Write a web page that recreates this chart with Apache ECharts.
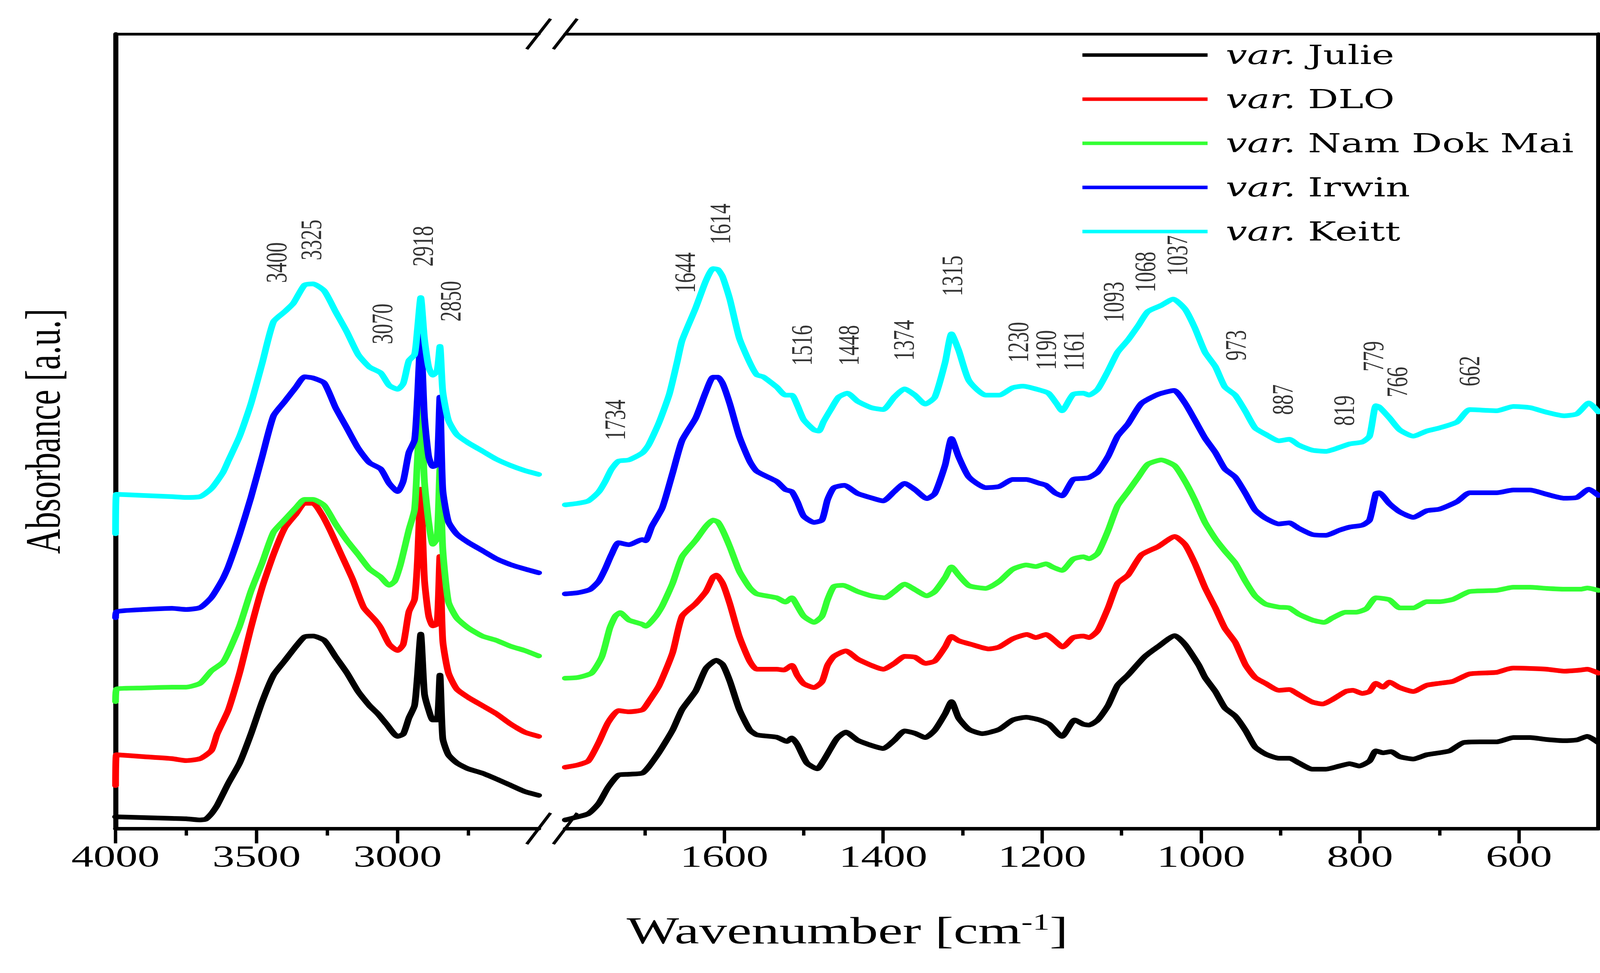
<!DOCTYPE html>
<html><head><meta charset="utf-8">
<script src="https://cdn.jsdelivr.net/npm/echarts@6/dist/echarts.min.js"></script>
<style>
html,body{margin:0;padding:0;background:#fff;overflow:hidden;width:4137px;height:2492px}
#chart{position:absolute;left:0;top:0;height:2492px;transform-origin:0 0;}
</style></head>
<body><div id="chart"></div>
<script>
// ---- data: [wavenumber, absorbance (arbitrary units, offset-stacked)] ----
const julieLeft = [[4000,30],[3900,28],[3800,26],[3750,25],[3700,22],[3680,24],[3660,38],[3640,59],[3600,116],[3560,168],[3520,242],[3480,325],[3440,393],[3400,430],[3360,467],[3330,491],[3300,493],[3260,482],[3220,440],[3180,399],[3140,351],[3100,315],[3070,294],[3040,268],[3000,236],[2980,242],[2960,283],[2940,315],[2930,388],[2918,498],[2905,346],[2890,304],[2875,278],[2860,278],[2850,393],[2840,231],[2820,189],[2790,168],[2750,153],[2700,142],[2650,127],[2600,111],[2550,95],[2500,85]];
const dloLeft = [[4000,110],[3997,189],[3900,184],[3800,179],[3750,174],[3700,179],[3660,200],[3640,242],[3600,304],[3560,399],[3520,514],[3480,618],[3440,702],[3400,770],[3360,806],[3330,833],[3300,833],[3270,806],[3240,765],[3200,702],[3160,639],[3120,566],[3080,534],[3060,514],[3030,472],[3000,456],[2980,472],[2960,555],[2940,587],[2930,681],[2918,869],[2905,639],[2890,545],[2875,519],[2860,524],[2850,697],[2840,482],[2820,399],[2790,357],[2750,336],[2700,315],[2650,294],[2600,268],[2550,247],[2500,236]];
const ndmLeft = [[4000,325],[3997,357],[3900,360],[3800,362],[3750,362],[3700,372],[3660,404],[3620,425],[3600,451],[3560,519],[3520,608],[3480,681],[3440,759],[3400,791],[3360,822],[3330,843],[3300,843],[3260,827],[3220,780],[3180,738],[3140,702],[3100,665],[3060,644],[3030,623],[3010,634],[2990,676],[2960,765],[2940,817],[2930,942],[2918,1099],[2905,890],[2890,786],[2875,728],[2860,744],[2850,921],[2840,717],[2820,581],[2790,539],[2750,514],[2700,493],[2650,482],[2600,467],[2550,456],[2500,442]];
const irwinLeft = [[4000,540],[3997,555],[3900,561],[3800,564],[3750,561],[3700,566],[3660,592],[3620,639],[3600,671],[3560,754],[3520,848],[3480,953],[3440,1057],[3400,1094],[3360,1131],[3330,1157],[3300,1154],[3260,1141],[3220,1078],[3180,1026],[3140,974],[3100,937],[3060,921],[3030,884],[3000,863],[2980,890],[2960,963],[2940,995],[2930,1099],[2918,1262],[2905,1057],[2890,953],[2875,927],[2860,932],[2850,1105],[2840,869],[2820,786],[2790,754],[2750,733],[2700,712],[2650,691],[2600,676],[2550,665],[2500,655]];
const keittLeft = [[4000,755],[3997,856],[3900,853],[3800,850],[3750,848],[3700,850],[3660,871],[3620,911],[3600,942],[3560,1005],[3520,1088],[3480,1192],[3440,1298],[3400,1324],[3370,1345],[3330,1392],[3300,1395],[3260,1377],[3220,1324],[3180,1272],[3140,1214],[3100,1182],[3060,1167],[3030,1135],[3000,1125],[2980,1140],[2960,1198],[2940,1214],[2930,1276],[2918,1360],[2905,1255],[2890,1182],[2875,1161],[2860,1172],[2850,1235],[2840,1120],[2820,1046],[2790,1009],[2750,988],[2700,967],[2650,946],[2600,930],[2550,917],[2500,907]];

const julieRight = [[1800,22],[1790,27],[1771,38],[1758,64],[1746,106],[1733,137],[1720,139],[1703,142],[1695,158],[1682,195],[1665,252],[1653,305],[1636,352],[1623,410],[1610,431],[1602,420],[1593,378],[1581,305],[1568,253],[1559,240],[1534,234],[1521,223],[1515,232],[1508,215],[1496,168],[1483,153],[1475,174],[1466,205],[1458,231],[1447,247],[1432,226],[1415,213],[1400,205],[1386,226],[1373,250],[1360,244],[1347,233],[1335,252],[1322,294],[1314,325],[1305,283],[1292,254],[1275,243],[1254,254],[1237,278],[1220,285],[1203,278],[1191,267],[1175,236],[1159,278],[1148,267],[1141,265],[1130,278],[1117,315],[1105,367],[1092,393],[1071,440],[1054,466],[1033,494],[1020,471],[1003,419],[995,387],[982,351],[970,309],[957,288],[944,251],[932,209],[919,191],[902,180],[889,180],[877,168],[860,152],[843,152],[826,160],[813,166],[801,160],[788,173],[780,199],[771,194],[761,197],[750,184],[733,178],[716,189],[700,194],[687,199],[670,220],[649,222],[628,222],[607,233],[586,233],[565,228],[543,225],[527,227],[514,236],[500,220]];
const dloRight = [[1800,157],[1784,163],[1771,173],[1758,220],[1746,272],[1733,302],[1720,299],[1703,304],[1695,325],[1682,366],[1665,450],[1653,544],[1636,576],[1623,607],[1614,644],[1610,649],[1602,628],[1593,576],[1581,492],[1568,429],[1559,408],[1534,408],[1525,406],[1515,418],[1508,392],[1500,371],[1487,361],[1477,376],[1470,418],[1462,441],[1447,455],[1432,434],[1415,418],[1400,408],[1386,423],[1373,441],[1360,439],[1347,423],[1335,429],[1322,465],[1314,492],[1305,481],[1288,471],[1267,460],[1254,465],[1237,486],[1219,497],[1208,489],[1195,497],[1184,481],[1174,465],[1161,489],[1148,493],[1141,489],[1130,507],[1117,565],[1105,628],[1092,649],[1075,701],[1054,722],[1033,748],[1020,727],[1008,680],[995,617],[982,565],[970,513],[957,477],[944,419],[932,387],[919,372],[902,354],[889,356],[877,343],[860,324],[847,319],[835,330],[818,351],[809,354],[797,346],[788,351],[780,372],[771,362],[763,375],[750,361],[733,351],[716,367],[700,372],[683,377],[662,396],[628,400],[615,408],[607,411],[586,410],[565,408],[543,403],[522,406],[514,408],[500,398]];
const ndmRight = [[1800,385],[1784,387],[1767,398],[1754,440],[1744,513],[1737,544],[1731,553],[1720,534],[1703,523],[1699,518],[1686,544],[1678,570],[1665,628],[1653,696],[1636,738],[1623,774],[1614,790],[1608,785],[1602,764],[1593,722],[1581,659],[1568,617],[1559,601],[1534,591],[1523,580],[1515,591],[1508,570],[1500,544],[1487,528],[1477,544],[1470,586],[1462,620],[1451,623],[1432,607],[1415,596],[1398,591],[1386,607],[1373,626],[1360,612],[1345,596],[1335,607],[1322,643],[1314,670],[1305,649],[1292,622],[1271,615],[1254,633],[1237,664],[1220,675],[1208,671],[1195,678],[1187,670],[1175,661],[1161,690],[1148,696],[1141,691],[1130,705],[1117,763],[1105,827],[1092,863],[1079,900],[1067,933],[1050,944],[1033,929],[1020,889],[1008,842],[995,784],[982,742],[970,711],[957,680],[944,633],[932,596],[919,575],[902,567],[889,565],[877,549],[860,534],[845,528],[835,539],[818,554],[805,554],[792,563],[780,591],[763,586],[750,565],[733,565],[716,581],[700,581],[683,587],[662,607],[628,610],[607,618],[586,618],[565,615],[543,613],[522,613],[514,616],[500,610]];
const irwinRight = [[1800,601],[1784,604],[1769,612],[1758,633],[1750,664],[1742,701],[1733,732],[1720,727],[1703,740],[1699,737],[1691,774],[1678,821],[1665,910],[1653,994],[1636,1051],[1623,1119],[1614,1156],[1608,1156],[1602,1140],[1593,1088],[1581,1004],[1568,941],[1559,915],[1534,889],[1523,868],[1515,863],[1508,837],[1500,800],[1487,784],[1477,790],[1470,842],[1462,873],[1449,879],[1432,858],[1415,847],[1400,839],[1386,863],[1373,884],[1360,868],[1345,845],[1335,858],[1322,931],[1314,999],[1305,952],[1292,900],[1271,873],[1254,876],[1237,894],[1220,894],[1203,884],[1195,879],[1184,860],[1175,852],[1161,894],[1148,897],[1141,899],[1130,913],[1117,953],[1105,1005],[1092,1036],[1075,1089],[1054,1112],[1034,1122],[1020,1089],[1008,1047],[995,1000],[982,963],[970,921],[957,900],[944,858],[932,816],[919,795],[902,780],[889,783],[877,769],[860,753],[843,751],[826,764],[813,772],[797,777],[788,790],[780,858],[776,860],[763,832],[750,811],[733,797],[716,814],[700,818],[678,837],[662,860],[628,860],[607,867],[586,867],[565,856],[543,846],[527,848],[512,869],[500,853]];
const keittRight = [[1800,829],[1784,833],[1771,839],[1758,862],[1750,888],[1742,920],[1733,941],[1720,944],[1703,962],[1695,983],[1682,1040],[1669,1113],[1659,1197],[1653,1250],[1636,1333],[1623,1403],[1614,1434],[1608,1432],[1602,1413],[1593,1356],[1581,1256],[1568,1194],[1559,1162],[1551,1157],[1534,1131],[1523,1110],[1515,1110],[1508,1084],[1500,1047],[1487,1021],[1481,1018],[1475,1042],[1466,1073],[1456,1105],[1445,1115],[1432,1094],[1415,1078],[1400,1073],[1386,1105],[1373,1126],[1360,1110],[1347,1087],[1335,1105],[1322,1194],[1314,1267],[1305,1225],[1292,1147],[1271,1110],[1254,1110],[1237,1129],[1224,1133],[1203,1123],[1192,1115],[1182,1089],[1175,1070],[1161,1112],[1148,1115],[1141,1110],[1130,1125],[1117,1172],[1105,1220],[1092,1251],[1079,1288],[1067,1324],[1050,1340],[1035,1356],[1020,1330],[1008,1283],[995,1220],[982,1183],[970,1131],[957,1110],[944,1068],[932,1026],[919,1010],[902,993],[889,997],[877,982],[860,969],[843,966],[826,976],[813,985],[797,990],[788,1005],[780,1083],[776,1080],[763,1052],[750,1021],[733,1005],[716,1018],[700,1026],[678,1041],[662,1073],[628,1070],[607,1081],[586,1078],[565,1066],[543,1057],[527,1062],[512,1090],[500,1067]];

const varietyNames = ['Julie', 'DLO', 'Nam Dok Mai', 'Irwin', 'Keitt'];
const varietyColors = ['#000000', '#ff0000', '#33ff33', '#0000ff', '#00ffff'];

// tick values
const leftMajorTicks = [4000, 3500, 3000];
const leftMinorTicks = [3750, 3250, 2750];
const rightMajorTicks = [1600, 1400, 1200, 1000, 800, 600];
const rightMinorTicks = [1700, 1500, 1300, 1100, 900, 700];

// peak annotations: label text, anchor wavenumber, anchor height (bottom of rotated text)
const peakLeftText = ['3400', '3325', '3070', '2918', '2850'];
const peakLeftX = [3429, 3306, 3054, 2910, 2812];
const peakLeftY = [1397, 1455, 1240, 1439, 1298];
const peakRightText = ['1734','1644','1614','1516','1448','1374','1315','1230','1190','1161','1093','1068','1037','973','887','819','779','766','662'];
const peakRightX = [1737,1649,1605,1502,1443,1374,1313,1230,1195,1160,1110,1070,1030,956,897,820,783,753,662];
const peakRightY = [994,1371,1496,1185,1185,1198,1363,1193,1174,1172,1296,1373,1415,1198,1059,1031,1170,1104,1132];

// ---- layout ----
const S = 1.45;                       // horizontal stretch of the original figure
const W = Math.round(4137 / S);
const H = 2492;
const GT = 87, GH = 2035;
const LL = 204, LW = 747;             // left panel
const RL = 998, RW = 1824;            // right panel

const dom = document.getElementById('chart');
dom.style.width = W + 'px';
dom.style.transform = 'scaleX(' + S + ')';
const chart = echarts.init(dom, null, { renderer: 'svg', width: W, height: H });

const black = '#000';
const serif = 'Liberation Serif';

function bottomAxis(grid, min, max, interval, ticks, len, labels) {
  return {
    type: 'value', gridIndex: grid, position: 'bottom', inverse: true,
    min: min, max: max, interval: interval,
    axisLine: { show: labels, onZero: false, lineStyle: { color: black, width: 9 } },
    axisTick: { show: true, inside: false, length: len, customValues: ticks, lineStyle: { color: black, width: 6 } },
    axisLabel: labels ? {
      show: true, customValues: ticks, margin: 32, color: black,
      fontFamily: serif, fontSize: 78,
      formatter: v => (ticks.indexOf(v) >= 0 ? String(v) : '')
    } : { show: false },
    splitLine: { show: false }
  };
}
function topAxis(grid, min, max) {
  return {
    type: 'value', gridIndex: grid, position: 'top', inverse: true, min: min, max: max,
    axisLine: { show: true, onZero: false, lineStyle: { color: black, width: 7 } },
    axisTick: { show: false }, axisLabel: { show: false }, splitLine: { show: false }
  };
}

const series = [];
const leftData = [julieLeft, dloLeft, ndmLeft, irwinLeft, keittLeft];
const rightData = [julieRight, dloRight, ndmRight, irwinRight, keittRight];
varietyNames.forEach((n, i) => {
  const common = {
    type: 'line', name: n, showSymbol: false, symbol: 'none', animation: false,
    smooth: 0.2,
    lineStyle: { width: 12, color: varietyColors[i], join: 'round', cap: 'round' },
    itemStyle: { color: varietyColors[i] },
    emphasis: { disabled: true }
  };
  series.push(Object.assign({}, common, { xAxisIndex: 0, yAxisIndex: 0, data: leftData[i] }));
  series.push(Object.assign({}, common, { xAxisIndex: 3, yAxisIndex: 1, data: rightData[i] }));
});

const peakLabel = {
  show: true, formatter: p => p.value[2], rotate: 90, position: [0, 0],
  align: 'left', verticalAlign: 'middle', color: '#000', fontFamily: serif, fontSize: 52
};
series.push({
  type: 'scatter', name: 'peaksL', xAxisIndex: 0, yAxisIndex: 0, symbolSize: 1, silent: true,
  itemStyle: { color: 'rgba(0,0,0,0)' }, label: peakLabel, animation: false, z: 5,
  data: peakLeftText.map((t, i) => [peakLeftX[i], peakLeftY[i], t])
});
series.push({
  type: 'scatter', name: 'peaksR', xAxisIndex: 3, yAxisIndex: 1, symbolSize: 1, silent: true,
  itemStyle: { color: 'rgba(0,0,0,0)' }, label: peakLabel, animation: false, z: 5,
  data: peakRightText.map((t, i) => [peakRightX[i], peakRightY[i], t])
});

function slash(cx, cy, dy) {
  return { type: 'line', silent: true, z: 100,
    shape: { x1: cx - 21, y1: cy + dy, x2: cx + 21, y2: cy - dy },
    style: { stroke: black, lineWidth: 6 } };
}

chart.setOption({
  backgroundColor: '#fff',
  animation: false,
  title: {
    text: 'Wavenumber [cm{sup|-1}]', left: (LL + RL + RW) / 2 - 22, top: 2326, textAlign: 'center',
    textStyle: {
      fontFamily: serif, fontSize: 98, fontWeight: 'normal', color: black, lineHeight: 104,
      rich: { sup: { fontFamily: serif, fontSize: 60, verticalAlign: 'top', lineHeight: 60, color: black } }
    }
  },
  legend: {
    data: varietyNames, orient: 'vertical', left: 1906, top: 96,
    itemWidth: 221, itemHeight: 9, itemGap: 33, icon: 'rect', selectedMode: false,
    formatter: n => '{i|var.} ' + n,
    textStyle: {
      fontFamily: 'DejaVu Serif', fontSize: 67, color: black, lineHeight: 80,
      rich: { i: { fontFamily: 'DejaVu Serif', fontStyle: 'italic', fontSize: 67, color: black, padding: [0, 0, 0, 27] } }
    }
  },
  grid: [
    { left: LL, top: GT, width: LW, height: GH },
    { left: RL, top: GT, width: RW, height: GH }
  ],
  xAxis: [
    bottomAxis(0, 2500, 4000, 500, leftMajorTicks, 38, true),
    bottomAxis(0, 2500, 4000, 500, leftMinorTicks, 18, false),
    topAxis(0, 2500, 4000),
    bottomAxis(1, 500, 1800, 100, rightMajorTicks, 38, true),
    bottomAxis(1, 500, 1800, 100, rightMinorTicks, 18, false),
    topAxis(1, 500, 1800)
  ],
  yAxis: [
    { type: 'value', gridIndex: 0, position: 'left', min: 0, max: GH,
      name: 'Absorbance [a.u.]', nameLocation: 'middle', nameGap: 84,
      nameTextStyle: { fontFamily: serif, fontSize: 88, color: black },
      axisLine: { show: true, onZero: false, lineStyle: { color: black, width: 9 } },
      axisTick: { show: false }, axisLabel: { show: false }, splitLine: { show: false } },
    { type: 'value', gridIndex: 1, position: 'right', min: 0, max: GH,
      axisLine: { show: true, onZero: false, lineStyle: { color: black, width: 8 } },
      axisTick: { show: false }, axisLabel: { show: false }, splitLine: { show: false } }
  ],
  series: series,
  graphic: [
    slash(LL + LW, GT, 39), slash(RL, GT, 39),
    slash(LL + LW, GT + GH, 40), slash(RL, GT + GH, 40)
  ]
});
</script>
</body></html>
